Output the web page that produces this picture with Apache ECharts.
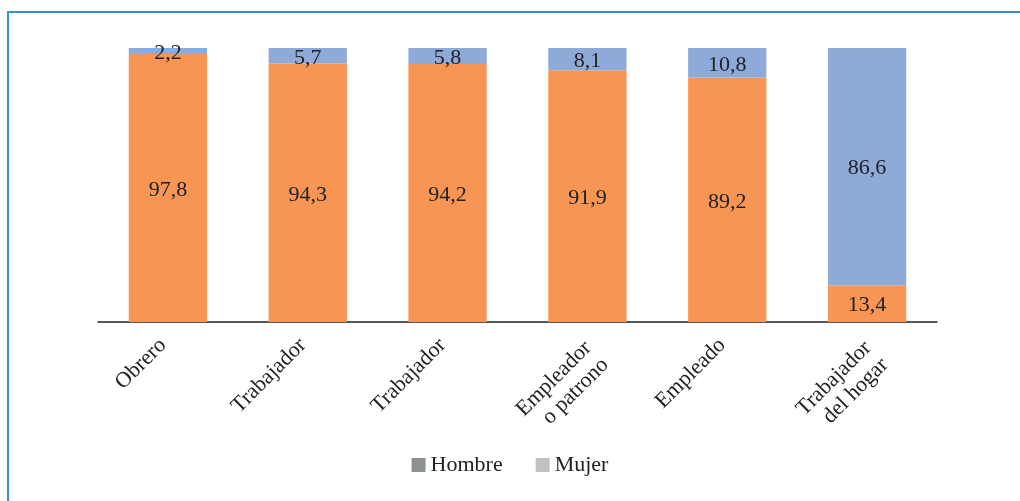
<!DOCTYPE html>
<html>
<head>
<meta charset="utf-8">
<script src="https://cdn.jsdelivr.net/npm/echarts@6/dist/echarts.min.js"></script>
<style>
  html, body { margin: 0; padding: 0; background: #fff; }
  #chart { width: 1020px; height: 501px; }
</style>
</head>
<body>
<div id="chart"></div>
<script>
// Ocupaciones y distribución por sexo (%)
const categories = ['Obrero', 'Trabajador', 'Trabajador', 'Empleador\no patrono', 'Empleado', 'Trabajador\ndel hogar'];
const hombre = [97.8, 94.3, 94.2, 91.9, 89.2, 13.4];
const mujer = [2.2, 5.7, 5.8, 8.1, 10.8, 86.6];

const serif = '"Liberation Serif", "DejaVu Serif", serif';
const fmt = p => String(p.value).replace('.', ',');

// category names: two-line names hang lower under their tick
function axisName(v) {
  if (v.indexOf('\n') < 0) return '{a|' + v + '}';
  return '{s| }\n' + v.split('\n').map(l => '{b|' + l + '}').join('\n');
}

const valueLabel = {
  show: true, position: 'inside', offset: [0, 2], formatter: fmt,
  fontFamily: serif, fontSize: 22, color: '#222'
};

const chart = echarts.init(document.getElementById('chart'));
chart.setOption({
  animation: false,
  backgroundColor: '#fff',
  graphic: [{
    type: 'rect',
    shape: { x: 8, y: 12, width: 1100, height: 600 },
    style: { fill: 'none', stroke: '#3a8fd3', lineWidth: 2 },
    silent: true
  }],
  grid: { left: 98, right: 83, top: 48, bottom: 179 },
  legend: {
    bottom: 20,
    left: 'center',
    itemWidth: 14,
    itemHeight: 14,
    itemGap: 33,
    icon: 'rect',
    textStyle: { fontFamily: serif, fontSize: 22, color: '#222' },
    data: [
      { name: 'Hombre', itemStyle: { color: '#8f9292' } },
      { name: 'Mujer', itemStyle: { color: '#c1c1c1' } }
    ]
  },
  xAxis: {
    type: 'category',
    data: categories,
    axisLine: { lineStyle: { color: '#222', width: 1.5 } },
    axisTick: { show: false },
    axisLabel: {
      rotate: 45,
      margin: 15,
      interval: 0,
      fontFamily: serif,
      fontSize: 22,
      color: '#222',
      formatter: axisName,
      rich: {
        a: { fontFamily: serif, fontSize: 22, color: '#222', lineHeight: 24, padding: [0, 7, 0, 0] },
        b: { fontFamily: serif, fontSize: 22, color: '#222', lineHeight: 24, padding: [0, 5, 0, 0] },
        s: { fontSize: 2, lineHeight: 36 }
      }
    }
  },
  yAxis: { type: 'value', min: 0, max: 100, show: false },
  series: [
    {
      name: 'Hombre',
      type: 'bar',
      stack: 'total',
      barWidth: '56%',
      data: hombre,
      itemStyle: { color: '#f79554' },
      label: valueLabel
    },
    {
      name: 'Mujer',
      type: 'bar',
      stack: 'total',
      data: mujer,
      itemStyle: { color: '#8eaad9' },
      label: valueLabel
    }
  ]
});
</script>
</body>
</html>
